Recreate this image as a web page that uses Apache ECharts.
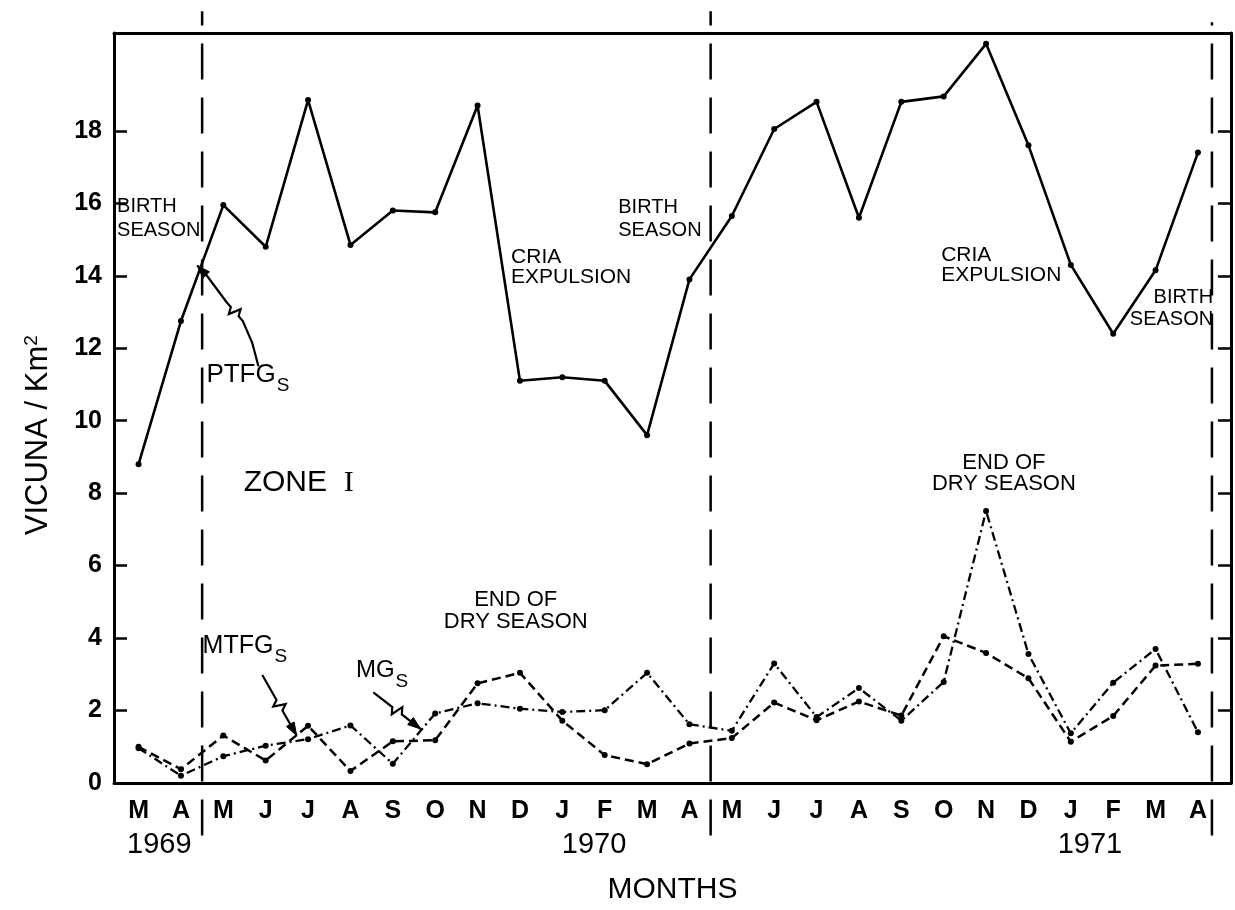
<!DOCTYPE html>
<html><head><meta charset="utf-8">
<script src="https://cdn.jsdelivr.net/npm/echarts@6/dist/echarts.min.js"></script>
<style>html,body{margin:0;padding:0;background:#fff}#c{width:1235px;height:910px}</style>
</head><body><div id="c"></div>
<script>
// ---------- data ----------
const months = ['M','A','M','J','J','A','S','O','N','D','J','F','M','A','M','J','J','A','S','O','N','D','J','F','M','A'];
const yearLabels = ['1969','1970','1971'];
const yearPositions = [0.49, 10.75, 22.45];
const yTicks = [0,2,4,6,8,10,12,14,16,18];
// PTFGs (solid)
const ptfg = [8.8,12.75,15.95,14.8,18.85,14.85,15.8,15.75,18.7,11.1,11.2,11.1,9.6,13.9,15.65,18.05,18.8,15.6,18.8,18.95,20.4,17.6,14.3,12.4,14.15,17.4];
// MTFGs (dashed)
const mtfg = [1.0,0.38,1.31,0.62,1.58,0.33,1.15,1.18,2.75,3.04,1.72,0.77,0.52,1.09,1.24,2.22,1.73,2.25,1.86,4.05,3.59,2.89,1.14,1.85,3.24,3.29];
// MGs (dash-dot)
const mg = [0.96,0.20,0.74,1.03,1.21,1.59,0.53,1.92,2.20,2.05,1.96,2.01,3.04,1.62,1.44,3.30,1.82,2.62,1.72,2.79,7.51,3.56,1.37,2.77,3.70,1.40];
// birth-season divider positions (month index)
const seasonDividers = [1.5, 13.5, 25.33];

// ---------- chart ----------
const FONT = '"Liberation Sans", Arial, sans-serif';
const X_MIN = -0.58, X_MAX = 25.78, Y_MIN = 0, Y_MAX = 20.7;
const chart = echarts.init(document.getElementById('c'));
const toPairs = arr => arr.map((v, i) => [i, v]);
const dividerTops = [21.3, 21.3, 21.0];

const series = [
  {name:'PTFGs', type:'line', data: toPairs(ptfg), symbol:'circle', symbolSize:6,
   lineStyle:{color:'#000', width:2.6}, itemStyle:{color:'#000'}, z:5},
  {name:'MTFGs', type:'line', data: toPairs(mtfg), symbol:'circle', symbolSize:6,
   lineStyle:{color:'#000', width:2.5, type:[9,5]}, itemStyle:{color:'#000'}, z:5},
  {name:'MGs', type:'line', data: toPairs(mg), symbol:'circle', symbolSize:6,
   lineStyle:{color:'#000', width:2.3, type:[9,4,2,4]}, itemStyle:{color:'#000'}, z:5}
];
seasonDividers.forEach((d, i) => {
  series.push({type:'line', data:[[d,-1.45],[d,dividerTops[i]]], symbol:'none', clip:false, silent:true,
    lineStyle:{color:'#000', width:2.5, type:[36,18]}, z:4});
});

const option = {
  animation:false,
  backgroundColor:'#fff',
  grid:{left:114, right:4, top:33, bottom:125},
  xAxis:[
    {type:'value', min:X_MIN, max:X_MAX, position:'bottom',
     axisLine:{show:true, onZero:false, lineStyle:{color:'#000', width:3}},
     axisTick:{show:false}, splitLine:{show:false},
     axisLabel:{customValues: months.map((m,i)=>i), formatter: v => months[Math.round(v)],
       color:'#000', fontSize:25, fontWeight:'bold', fontFamily:FONT, margin:16}},
    {type:'value', min:X_MIN, max:X_MAX, position:'bottom',
     axisLine:{show:false}, axisTick:{show:false}, splitLine:{show:false},
     axisLabel:{customValues: yearPositions,
       formatter: v => { const i = yearPositions.findIndex(p => Math.abs(p - v) < 1e-6); return i >= 0 ? yearLabels[i] : ''; },
       color:'#000', fontSize:29, fontFamily:FONT, margin:47},
     name:'MONTHS', nameLocation:'middle', nameGap:92,
     nameTextStyle:{color:'#000', fontSize:30, fontFamily:FONT}},
    {type:'value', min:X_MIN, max:X_MAX, position:'top',
     axisLine:{show:true, onZero:false, lineStyle:{color:'#000', width:3}},
     axisTick:{show:false}, axisLabel:{show:false}, splitLine:{show:false}}
  ],
  yAxis:[
    {type:'value', min:Y_MIN, max:Y_MAX, position:'left',
     axisLine:{show:true, onZero:false, lineStyle:{color:'#000', width:3}},
     axisTick:{show:true, inside:true, length:13, customValues:yTicks, lineStyle:{color:'#000', width:2.5}},
     axisLabel:{customValues:yTicks, color:'#000', fontSize:25, fontWeight:'bold', fontFamily:FONT, margin:12},
     splitLine:{show:false}},
    {type:'value', min:Y_MIN, max:Y_MAX, position:'right',
     axisLine:{show:true, onZero:false, lineStyle:{color:'#000', width:3}},
     axisTick:{show:true, inside:true, length:13, customValues:yTicks, lineStyle:{color:'#000', width:2.5}},
     axisLabel:{show:false}, splitLine:{show:false}}
  ],
  series: series
};
chart.setOption(option);

// ---------- annotations (positions in data units: month index, value) ----------
const notes = [
  {text:'BIRTH\nSEASON', at:[-0.507, 15.57], align:'left', size:20, lh:24},
  {text:'BIRTH\nSEASON', at:[11.32, 15.56], align:'left', size:20, lh:23},
  {text:'CRIA\nEXPULSION', at:[8.79, 14.24], align:'left', size:21, lh:20},
  {text:'CRIA\nEXPULSION', at:[18.94, 14.28], align:'left', size:21, lh:20},
  {text:'BIRTH\nSEASON', at:[25.36, 13.11], align:'right', size:20, lh:22},
  {text:'END OF\nDRY SEASON', at:[8.9, 4.74], align:'center', size:22, lh:22},
  {text:'END OF\nDRY SEASON', at:[20.42, 8.54], align:'center', size:22, lh:21}
];
const subLabels = [
  {main:'PTFG', at:[1.60, 11.07], size:26},
  {main:'MTFG', at:[1.51, 3.58], size:25},
  {main:'MG', at:[5.13, 2.89], size:24}
];
const arrows = [
  {pts:[[2.828,11.50],[2.684,12.14],[2.46,12.75],[2.078,13.27],[1.614,14.0],[1.384,14.28]], squiggle:2},
  {pts:[[2.92,2.98],[3.73,1.31]], squiggle:0},
  {pts:[[5.54,2.50],[6.66,1.49]], squiggle:0}
];
const zoneLabel = {at:[2.48, 8.29]};
const yTitle = {at:[-2.37, 9.6]};

const px = p => chart.convertToPixel({xAxisIndex:0, yAxisIndex:0}, p);
const g = [];
notes.forEach(n => {
  const p = px(n.at);
  g.push({type:'text', x:p[0], y:p[1], z:10, style:{text:n.text, fill:'#000',
    font: n.size + 'px ' + FONT, align:n.align, verticalAlign:'middle', lineHeight:n.lh}});
});
subLabels.forEach(s => {
  const p = px(s.at);
  g.push({type:'text', x:p[0], y:p[1], z:10, style:{
    text:'{a|' + s.main + '}{b|S}', align:'left', verticalAlign:'middle',
    rich:{a:{fontSize:s.size, fontFamily:FONT, fill:'#000', color:'#000', lineHeight:s.size+1, padding:[0,1,8,0], verticalAlign:'bottom'},
          b:{fontSize:19, fontFamily:FONT, fill:'#000', color:'#000', lineHeight:20, verticalAlign:'bottom'}}}});
});
{
  const p = px(zoneLabel.at);
  g.push({type:'text', x:p[0], y:p[1], z:10, style:{
    text:'{a|ZONE  }{b|I}', align:'left', verticalAlign:'middle',
    rich:{a:{fontSize:30, fontFamily:FONT, fill:'#000', color:'#000'},
          b:{fontSize:30, fontFamily:'"Liberation Serif", serif', fill:'#000', color:'#000'}}}});
}
{
  const p = px(yTitle.at);
  g.push({type:'text', x:p[0], y:p[1], rotation:Math.PI/2, z:10, style:{
    text:'{a|VICUNA / Km}{b|2}', align:'center', verticalAlign:'middle',
    rich:{a:{fontSize:31, fontFamily:FONT, fill:'#000', color:'#000', lineHeight:32, verticalAlign:'bottom'},
          b:{fontSize:19, fontFamily:FONT, fill:'#000', color:'#000', lineHeight:19, verticalAlign:'top'}}}});
}
arrows.forEach(a => {
  let pts = a.pts.map(px);
  const n = pts.length;
  const i = a.squiggle;
  const A = pts[i], B = pts[i+1];
  const dx = B[0]-A[0], dy = B[1]-A[1], L = Math.hypot(dx,dy);
  const d = [dx/L, dy/L], nn = [-d[1], d[0]];
  const m = [(A[0]+B[0])/2, (A[1]+B[1])/2];
  const sq = [
    [m[0]-6*d[0], m[1]-6*d[1]],
    [m[0]-2*d[0]+6*nn[0], m[1]-2*d[1]+6*nn[1]],
    [m[0]+2*d[0]-6*nn[0], m[1]+2*d[1]-6*nn[1]],
    [m[0]+6*d[0], m[1]+6*d[1]]
  ];
  const all = pts.slice(0, i+1).concat(sq, pts.slice(i+1));
  g.push({type:'polyline', z:10, shape:{points:all}, style:{stroke:'#000', lineWidth:2.2, fill:null}});
  const T = pts[n-1], P = pts[n-2];
  const ex = T[0]-P[0], ey = T[1]-P[1], EL = Math.hypot(ex,ey);
  const u = [ex/EL, ey/EL], w = [-u[1], u[0]];
  const base = [T[0]-13*u[0], T[1]-13*u[1]];
  g.push({type:'polygon', z:10, shape:{points:[T,[base[0]+4.5*w[0], base[1]+4.5*w[1]],[base[0]-4.5*w[0], base[1]-4.5*w[1]]]},
    style:{fill:'#000', stroke:'#000', lineWidth:1}});
});
chart.setOption({graphic:g});
</script></body></html>
